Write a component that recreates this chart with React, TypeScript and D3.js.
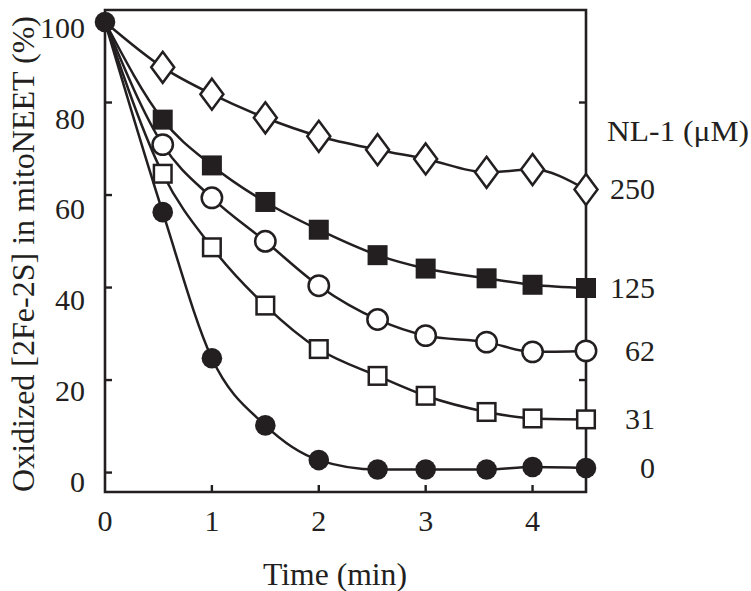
import React from "react";
import * as d3 from "d3";

const times = [0, 0.54, 1, 1.5, 2, 2.55, 3, 3.57, 4, 4.5];
const s250 = [97.4, 87.6, 81.8, 76.7, 72.7, 69.8, 67.8, 64.9, 65.5, 61.2];
const s125 = [97.4, 76.3, 66.4, 58.5, 52.5, 47.0, 44.1, 42.0, 40.6, 39.9];
const s62 = [97.4, 70.9, 59.4, 50.0, 40.4, 33.1, 29.6, 28.2, 26.1, 26.3];
const s31 = [97.4, 64.6, 48.7, 36.1, 26.7, 20.9, 16.6, 13.1, 11.7, 11.5];
const s0 = [97.4, 56.3, 24.7, 10.2, 2.7, 0.65, 0.65, 0.65, 1.2, 1.0];
const seriesLabels = ["250", "125", "62", "31", "0"];
const markers = ["diamond", "filledSquare", "openCircle", "openSquare", "filledCircle"];
const xTicks = [0, 1, 2, 3, 4];
const yTicks = [0, 20, 40, 60, 80, 100];

const W = 751;
const H = 591;
const left = 105;
const right = 586;
const top = 10;
const bottom = 492;
const INK = "#231f20";
const FONT = "'Liberation Serif', 'Times New Roman', Times, serif";

export default function App() {
  const x = d3.scaleLinear().domain([0, 4.5]).range([left, right]);
  const y = d3.scaleLinear().domain([-4.2, 100]).range([bottom, top]);
  // tick labels sit slightly more compressed than the ticks in the original
  const yLabel = d3.scaleLinear().domain([0, 100]).range([y(0) + 9, y(100) + 18]);
  const all = [s250, s125, s62, s31, s0];
  const line = d3
    .line<number>()
    .x((_, i) => x(times[i]))
    .y((d) => y(d))
    .curve(d3.curveMonotoneX);
  const sw = 2.5;
  const ts = { fontFamily: FONT };

  const marker = (type: string, cx: number, cy: number, key: string) => {
    switch (type) {
      case "diamond":
        return (
          <path
            key={key}
            d={`M${cx},${cy - 15.5}L${cx + 11.5},${cy}L${cx},${cy + 15.5}L${cx - 11.5},${cy}Z`}
            fill="#fff"
            stroke={INK}
            strokeWidth={sw}
          />
        );
      case "filledSquare":
        return <rect key={key} x={cx - 10} y={cy - 10} width={20} height={20} fill={INK} />;
      case "openSquare":
        return (
          <rect key={key} x={cx - 8.8} y={cy - 8.8} width={17.6} height={17.6} fill="#fff" stroke={INK} strokeWidth={sw} />
        );
      case "openCircle":
        return <circle key={key} cx={cx} cy={cy} r={10.2} fill="#fff" stroke={INK} strokeWidth={sw} />;
      default:
        return <circle key={key} cx={cx} cy={cy} r={10.3} fill={INK} />;
    }
  };

  return (
    <svg width={W} height={H} style={{ position: "absolute", left: 0, top: 0, background: "#fff" }}>
      <rect x={0} y={0} width={W} height={H} fill="#fff" />
      <path d={`M${left},${top}H${right}V${bottom}H${left}Z`} fill="none" stroke={INK} strokeWidth={2.6} />
      {yTicks.filter((t) => t < 100).map((t) => (
        <g key={"yt" + t}>
          <line x1={left} x2={left + 7} y1={y(t)} y2={y(t)} stroke={INK} strokeWidth={2.4} />
          <line x1={right} x2={right - 7} y1={y(t)} y2={y(t)} stroke={INK} strokeWidth={2.4} />
        </g>
      ))}
      {yTicks.map((t) => (
        <text key={"yl" + t} x={85} y={yLabel(t) + 10} textAnchor="end" fontSize={30} fill={INK} style={ts}>
          {t}
        </text>
      ))}
      {xTicks.filter((t) => t > 0).map((t) => (
        <line key={"xt" + t} x1={x(t)} x2={x(t)} y1={bottom} y2={bottom - 7} stroke={INK} strokeWidth={2.4} />
      ))}
      {xTicks.map((t) => (
        <text key={"xl" + t} x={x(t)} y={531} textAnchor="middle" fontSize={30} fill={INK} style={ts}>
          {t}
        </text>
      ))}
      <text
        x={335}
        y={585}
        textAnchor="middle"
        fontSize={31}
        fill={INK}
        style={ts}
        textLength={144}
        lengthAdjust="spacingAndGlyphs"
      >
        Time (min)
      </text>
      <text
        transform={`translate(34,254) rotate(-90)`}
        textAnchor="middle"
        fontSize={31}
        fill={INK}
        style={ts}
        textLength={476}
        lengthAdjust="spacingAndGlyphs"
      >
        Oxidized [2Fe-2S] in mitoNEET (%)
      </text>
      {all.map((s, i) => (
        <path key={"l" + i} d={line(s) || ""} fill="none" stroke={INK} strokeWidth={sw} />
      ))}
      {all.map((s, i) =>
        s.map((v, j) =>
          j === 0 && i < all.length - 1 ? null : marker(markers[i], x(times[j]), y(v), `m${i}-${j}`)
        )
      )}
      <text x={607} y={141} fontSize={30} fill={INK} style={ts} textLength={142} lengthAdjust="spacingAndGlyphs">
        NL-1 (μM)
      </text>
      {all.map((s, i) => (
        <text key={"sl" + i} x={655} y={y(s[s.length - 1]) + 10} textAnchor="end" fontSize={30} fill={INK} style={ts}>
          {seriesLabels[i]}
        </text>
      ))}
    </svg>
  );
}
